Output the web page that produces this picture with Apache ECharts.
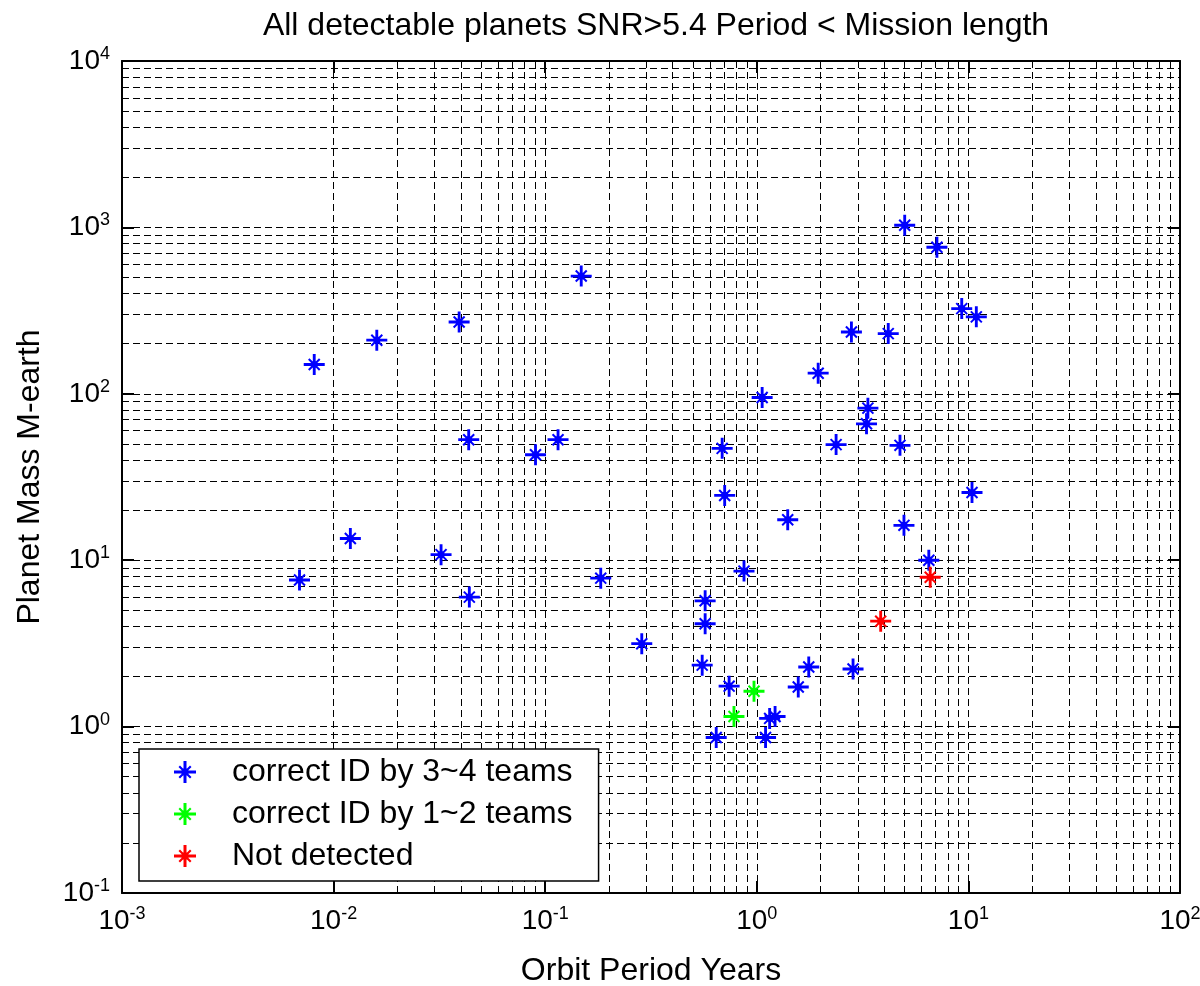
<!DOCTYPE html>
<html>
<head>
<meta charset="utf-8">
<script src="https://cdn.jsdelivr.net/npm/echarts@6/dist/echarts.min.js"></script>
<style>
html,body{margin:0;padding:0;background:#fff;}
#c{width:1200px;height:986px;}
</style>
</head>
<body>
<div id="c"></div>
<script>
// ---- data ----
const titleText = 'All detectable planets SNR>5.4 Period < Mission length';
const xName = 'Orbit Period Years';
const yName = 'Planet Mass M-earth';
const seriesNames = ['correct ID by 3~4 teams', 'correct ID by 1~2 teams', 'Not detected'];
const seriesColors = ['#0000ff', '#00ff00', '#ff0000'];

const blueX = [0.0069, 0.0081, 0.0120, 0.0160, 0.0322, 0.0392, 0.0435, 0.0438, 0.090, 0.115,
  0.148, 0.183, 0.286, 0.552, 0.570, 0.570, 0.643, 0.686, 0.705, 0.740,
  0.870, 1.06, 1.10, 1.15, 1.22, 1.40, 1.57, 1.76, 1.95, 2.37,
  2.80, 2.85, 3.35, 3.30, 4.18, 4.75, 4.96, 5.0, 6.5, 7.1,
  9.3, 10.9, 10.4];
const blueY = [7.6, 150, 13.5, 210, 10.8, 270, 53, 6.0, 43, 53,
  510, 7.8, 3.15, 2.34, 5.7, 4.15, 0.86, 47, 24.5, 1.75,
  8.6, 95, 0.86, 1.12, 1.15, 17.5, 1.73, 2.28, 133, 49.5,
  235, 2.22, 82, 66, 230, 49, 16.2, 1030, 10, 760,
  325, 290, 25.5];
const greenX = [0.78, 0.97];
const greenY = [1.15, 1.63];
const redX = [3.85, 6.6];
const redY = [4.3, 7.9];

const xTickExps = [-3, -2, -1, 0, 1, 2];
const yTickExps = [-1, 0, 1, 2, 3, 4];
const minorMultipliers = [1, 2, 3, 4, 5, 6, 7, 8, 9];

// ---- build ----
function zip(xs, ys) { return xs.map((x, i) => [x, ys[i]]); }
function gridValues(exps) {
  const out = [];
  for (let i = 0; i < exps.length - 1; i++) {
    minorMultipliers.forEach(m => {
      if (i === 0 && m === 1) return;
      out.push(m * Math.pow(10, exps[i]));
    });
  }
  return out;
}
const FONT = "'Liberation Sans', Arial, Helvetica, sans-serif";
const STAR = 'path://M9.5,0 L12.5,0 L12.5,22 L9.5,22 Z M0,9.5 L22,9.5 L22,12.5 L0,12.5 Z M4.5,6 L6,4.5 L17.5,16 L16,17.5 Z M16,4.5 L17.5,6 L6,17.5 L4.5,16 Z M7.5,7.5 L14.5,7.5 L14.5,14.5 L7.5,14.5 Z';

function expLabel(v) {
  const e = Math.round(Math.log10(v));
  return '{b|10}{e|' + e + '}';
}
const richLab = {
  b: { fontSize: 28, lineHeight: 32, fontFamily: FONT, color: '#000' },
  e: { fontSize: 18, lineHeight: 18, fontFamily: FONT, color: '#000', verticalAlign: 'top' }
};

const gridLine = { color: '#000', width: 1, type: [7, 4], opacity: 1 };
const markData = gridValues(xTickExps).map(v => ({ xAxis: v }))
  .concat(gridValues(yTickExps).map(v => ({ yAxis: v })));

const xMin = Math.pow(10, xTickExps[0]), xMax = Math.pow(10, xTickExps[xTickExps.length - 1]);
const yMin = Math.pow(10, yTickExps[0]), yMax = Math.pow(10, yTickExps[yTickExps.length - 1]);

const axisCommon = {
  type: 'log', logBase: 10, interval: 1,
  axisLine: { show: true, onZero: false, lineStyle: { color: '#000', width: 2 } },
  axisTick: { show: true, inside: true, length: 12, lineStyle: { color: '#000', width: 2 } },
  splitLine: { show: false },
  minorTick: { show: false },
};

const starStyle = (c) => ({ color: c, opacity: 1 });

const chart = echarts.init(document.getElementById('c'), null, { renderer: 'canvas' });
chart.setOption({
  animation: false,
  backgroundColor: '#fff',
  title: {
    text: titleText, left: 651, textAlign: 'center', top: 5,
    textStyle: { fontFamily: FONT, fontSize: 32, fontWeight: 'normal', color: '#000' }
  },
  grid: { left: 122, right: 20, top: 61, bottom: 93, containLabel: false, outerBoundsMode: 'none' },
  xAxis: [
    Object.assign({}, axisCommon, {
      min: xMin, max: xMax, position: 'bottom',
      name: xName, nameLocation: 'middle', nameGap: 62,
      nameTextStyle: { fontFamily: FONT, fontSize: 32, color: '#000' },
      axisLabel: { show: true, margin: 12, formatter: expLabel, rich: richLab }
    }),
    Object.assign({}, axisCommon, {
      min: xMin, max: xMax, position: 'top', axisLabel: { show: false }
    })
  ],
  yAxis: [
    Object.assign({}, axisCommon, {
      min: yMin, max: yMax, position: 'left',
      name: yName, nameLocation: 'middle', nameGap: 76,
      nameTextStyle: { fontFamily: FONT, fontSize: 32, color: '#000' },
      axisLabel: { show: true, margin: 12, formatter: expLabel, rich: richLab }
    }),
    Object.assign({}, axisCommon, {
      min: yMin, max: yMax, position: 'right', axisLabel: { show: false }
    })
  ],
  legend: {
    left: 139, top: 749, orient: 'vertical', z: 20,
    backgroundColor: '#fff', borderColor: '#000', borderWidth: 1.5,
    padding: [7, 26, 9, 35], itemGap: 10,
    itemWidth: 22, itemHeight: 22,
    textStyle: { fontFamily: FONT, fontSize: 32, lineHeight: 30, color: '#000', padding: [0, 0, 0, 31] },
    data: seriesNames.map((n) => ({ name: n, icon: STAR })),
    selectedMode: false
  },
  series: [
    {
      name: 'gridlines', type: 'scatter', data: [], z: 1, silent: true,
      markLine: {
        silent: true, z: 1, symbol: ['none', 'none'], animation: false,
        label: { show: false }, lineStyle: gridLine, emphasis: { disabled: true },
        data: markData
      }
    },
    { name: seriesNames[0], type: 'scatter', data: zip(blueX, blueY), symbol: STAR, symbolSize: 21, itemStyle: starStyle(seriesColors[0]), z: 5 },
    { name: seriesNames[1], type: 'scatter', data: zip(greenX, greenY), symbol: STAR, symbolSize: 21, itemStyle: starStyle(seriesColors[1]), z: 5 },
    { name: seriesNames[2], type: 'scatter', data: zip(redX, redY), symbol: STAR, symbolSize: 21, itemStyle: starStyle(seriesColors[2]), z: 5 }
  ]
});
</script>
</body>
</html>
